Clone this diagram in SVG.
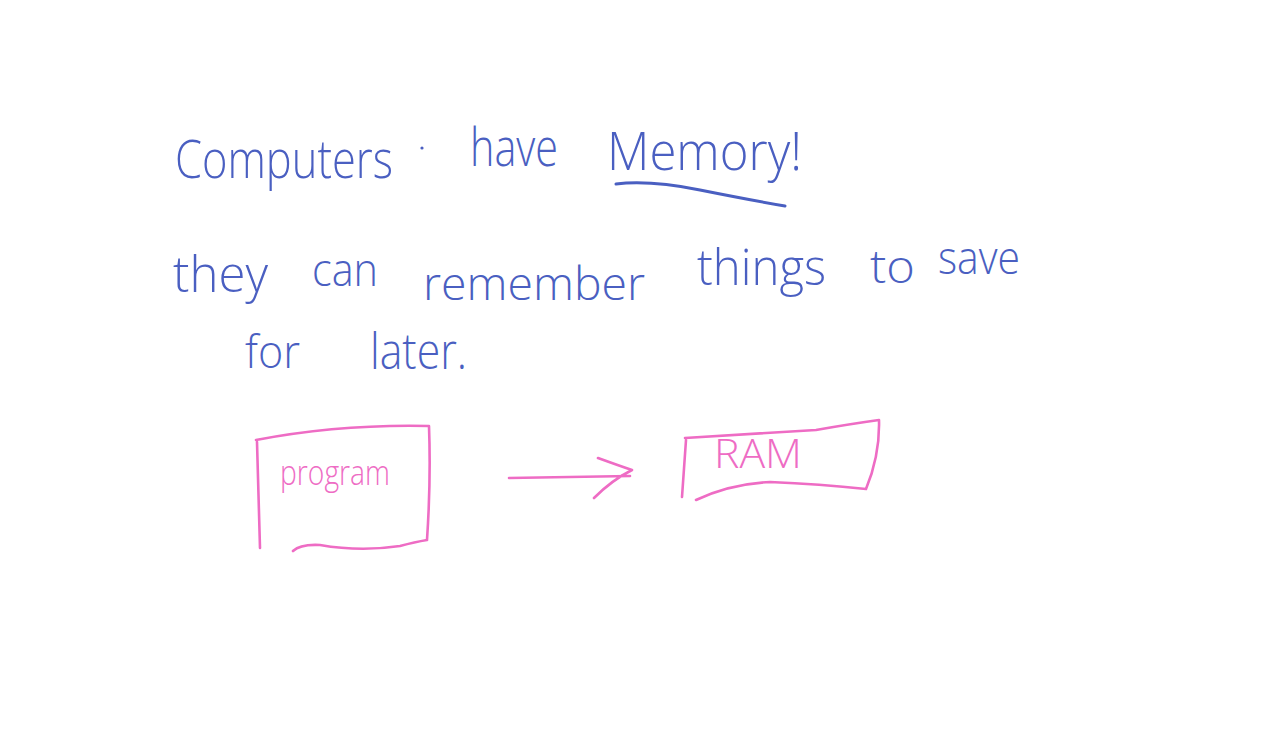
<svg xmlns="http://www.w3.org/2000/svg" width="1280" height="751" viewBox="0 0 1280 751">
<style>
.b{fill:#4a5fc1;font-family:"Open Sans","Liberation Sans",sans-serif;font-weight:300}
.p{fill:#ee6cc4;font-family:"Open Sans","Liberation Sans",sans-serif;font-weight:300}
.bs{fill:none;stroke:#4a5fc1;stroke-width:3;stroke-linecap:round;stroke-linejoin:round}
.ps{fill:none;stroke:#ee6cc4;stroke-width:2.6;stroke-linecap:round;stroke-linejoin:round}
</style>
<rect width="1280" height="751" fill="#ffffff"/>
<g id="title">
<text class="b" x="175" y="178" font-size="54" textLength="218" lengthAdjust="spacingAndGlyphs">Computers</text>
<circle cx="422" cy="148" r="1.6" fill="#4a5fc1"/>
<text class="b" x="470" y="166" font-size="54" textLength="88" lengthAdjust="spacingAndGlyphs">have</text>
<text class="b" x="607" y="170" font-size="54" textLength="195" lengthAdjust="spacingAndGlyphs">Memory!</text>
<path class="bs" d="M616 184 Q650 180 700 190 T785 206"/>
</g>
<g id="sentence">
<text class="b" x="173" y="292" font-size="50" textLength="95" lengthAdjust="spacingAndGlyphs">they</text>
<text class="b" x="312" y="286" font-size="46" textLength="66" lengthAdjust="spacingAndGlyphs">can</text>
<text class="b" x="423" y="300" font-size="46" textLength="222" lengthAdjust="spacingAndGlyphs">remember</text>
<text class="b" x="697" y="285" font-size="50" textLength="129" lengthAdjust="spacingAndGlyphs">things</text>
<text class="b" x="870" y="283" font-size="46" textLength="45" lengthAdjust="spacingAndGlyphs">to</text>
<text class="b" x="938" y="274" font-size="46" textLength="82" lengthAdjust="spacingAndGlyphs">save</text>
<text class="b" x="245" y="368" font-size="46" textLength="55" lengthAdjust="spacingAndGlyphs">for</text>
<text class="b" x="370" y="369" font-size="50" textLength="97" lengthAdjust="spacingAndGlyphs">later.</text>
</g>
<g id="program">
<path class="ps" d="M256 440 Q340 424 429 426 Q431 480 427 540 M257 442 L260 548 M293 551 Q300 544 320 545 Q360 552 400 546 Q415 542 427 540"/>
<text class="p" x="280" y="485" font-size="34" textLength="110" lengthAdjust="spacingAndGlyphs">program</text>
</g>
<g id="connectors">
<path class="ps" d="M509 478 L630 476 M598 458 Q620 466 632 470 Q612 480 594 498"/>
</g>
<g id="ram">
<path class="ps" d="M685 438 L816 430 Q850 424 879 420 Q880 455 866 489 M686 440 L682 497 M696 500 Q730 484 770 482 Q820 484 866 489"/>
<text class="p" x="714" y="468" font-size="40" textLength="88" lengthAdjust="spacingAndGlyphs">RAM</text>
</g>
</svg>
